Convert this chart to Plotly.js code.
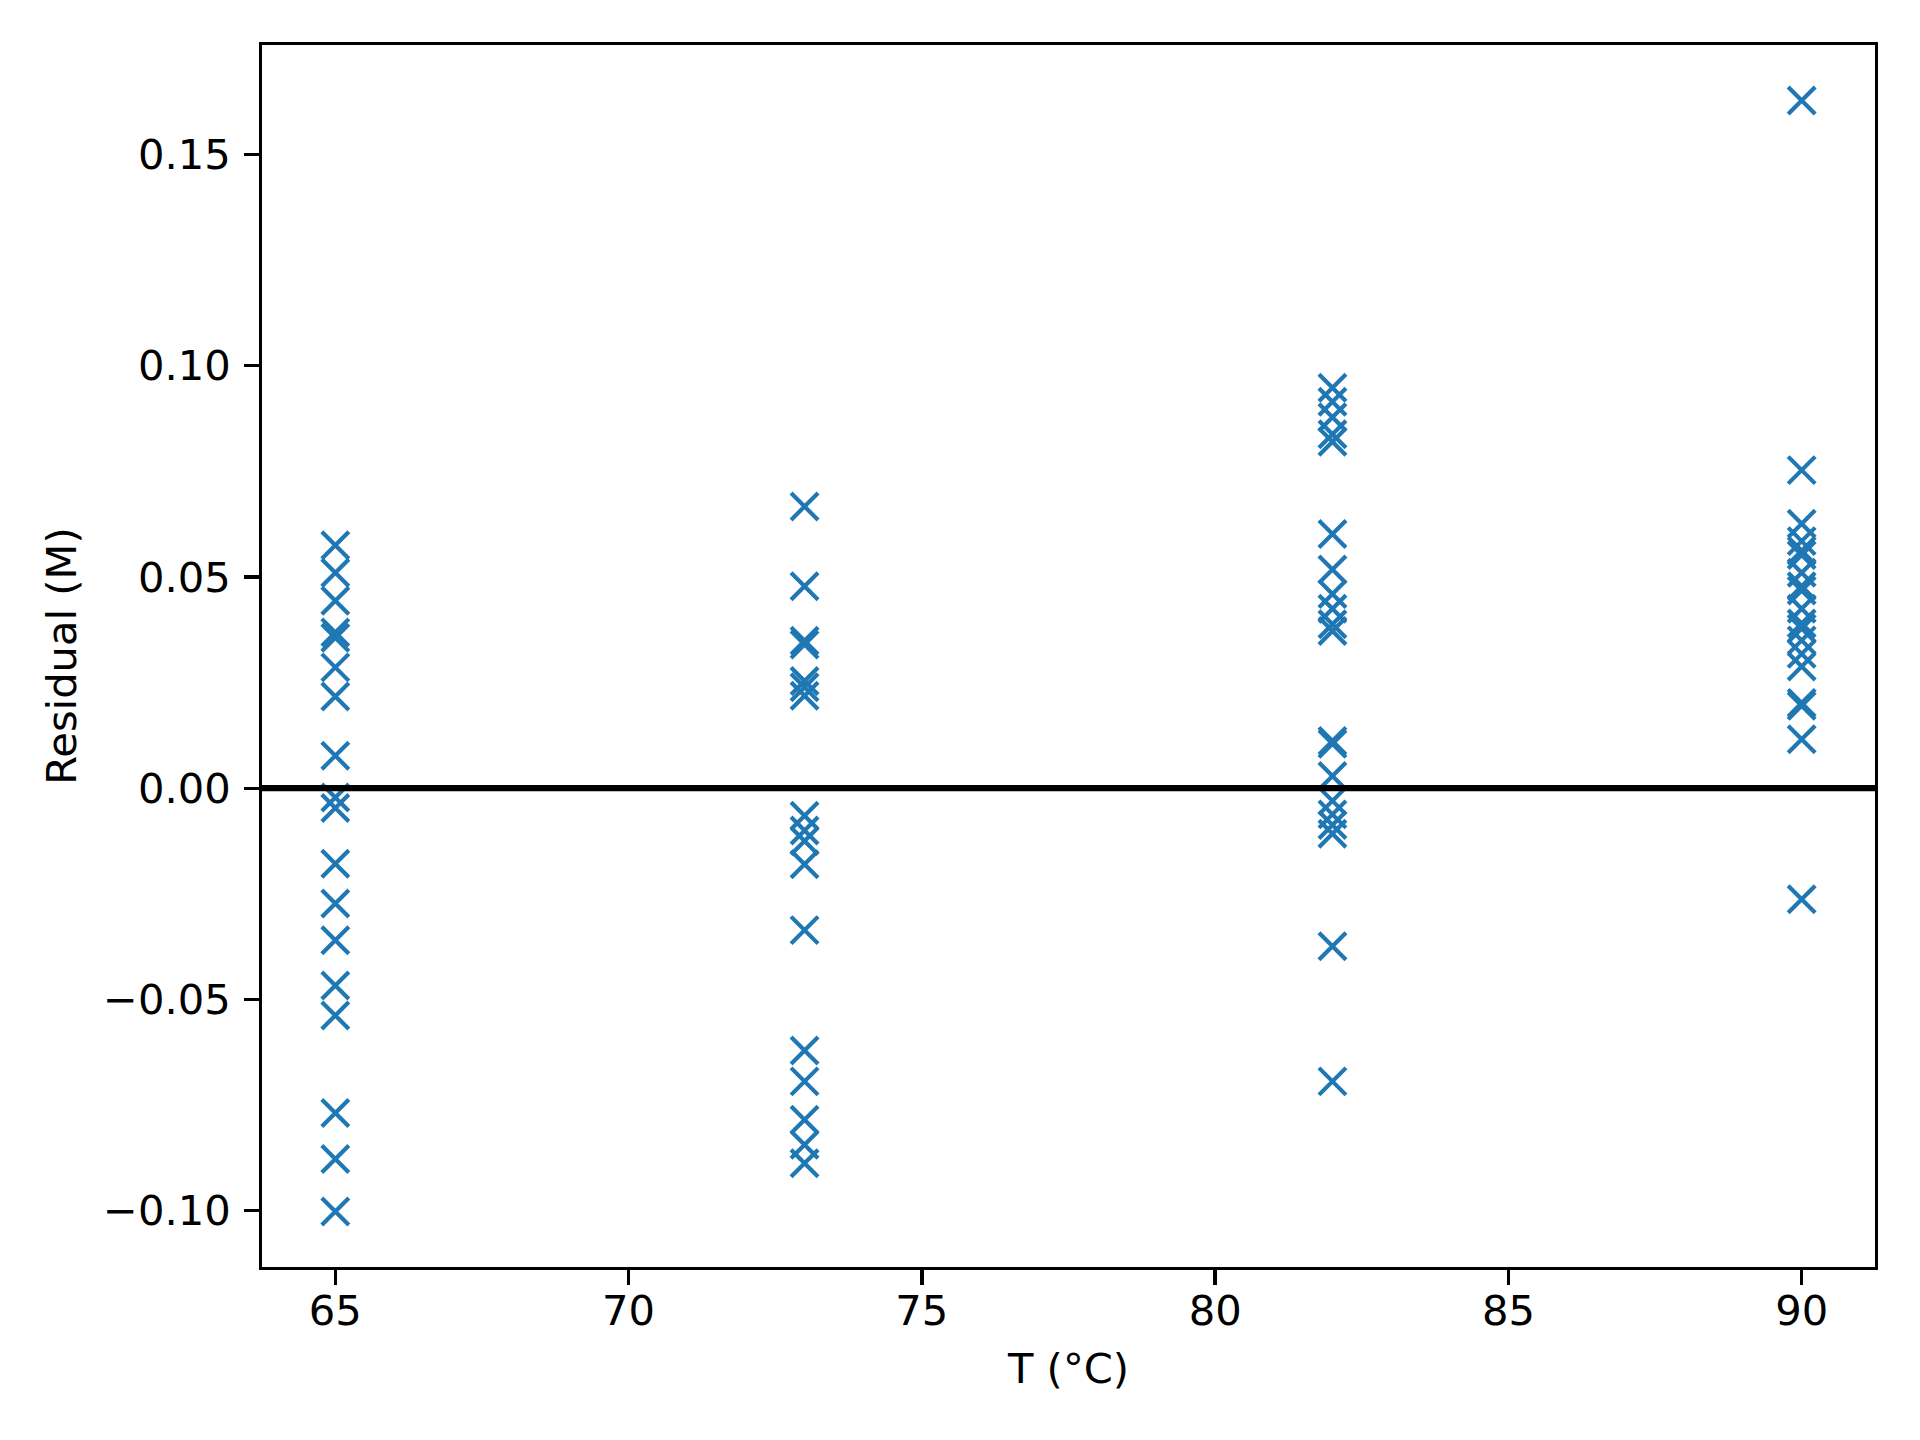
<!DOCTYPE html>
<html>
<head>
<meta charset="utf-8">
<script src="https://cdn.plot.ly/plotly-3.0.1.min.js"></script>
<style>
    html, body { margin: 0; padding: 0; background: #ffffff; }
    #chart { width: 1920px; height: 1440px; }
</style>
</head>
<body>
<div id="chart"></div>
<script>
// Residuals, one list per temperature
const temps = [65, 73, 82, 90];

const resid65 = [0.0575, 0.0510, 0.0444, 0.0369, 0.0356, 0.0286, 0.0217, 0.0077, -0.0022, -0.0047,
    -0.0179, -0.0273, -0.0360, -0.0467, -0.0538, -0.0769, -0.0878, -0.1002];
const resid73 = [0.0667, 0.0478, 0.0349, 0.0340, 0.0254, 0.0239, 0.0219, -0.0065, -0.0100, -0.0125,
    -0.0180, -0.0336, -0.0621, -0.0694, -0.0785, -0.0844, -0.0888];
const resid82 = [0.0948, 0.0915, 0.0878, 0.0838, 0.0820, 0.0602, 0.0518, 0.0460, 0.0425, 0.0388,
    0.0372, 0.0112, 0.0105, 0.0029, -0.0030, -0.0062, -0.0087, -0.0108, -0.0374, -0.0694];
const resid90 = [0.1628, 0.0753, 0.0626, 0.0585, 0.0562, 0.0552, 0.0510, 0.0478, 0.0468, 0.0425,
    0.0390, 0.0378, 0.0350, 0.0318, 0.0288, 0.0202, 0.0195, 0.0116, -0.0263];

const residGroups = [resid65, resid73, resid82, resid90];

const xTickVals = [65, 70, 75, 80, 85, 90];
const yTickVals = [-0.10, -0.05, 0.00, 0.05, 0.10, 0.15];

// flatten into x/y
const xs = [];
const ys = [];
residGroups.forEach((group, i) => {
    group.forEach(v => { xs.push(temps[i]); ys.push(v); });
});

// matplotlib-style 5% auto margins
function padRange(vals) {
    const lo = Math.min(...vals), hi = Math.max(...vals);
    const m = (hi - lo) * 0.05;
    return [lo - m, hi + m];
}

const FONT = 'DejaVu Sans, Liberation Sans, sans-serif';
const DPI = 300 / 72;   // points -> px at 300 dpi

const trace = {
    type: 'scatter',
    mode: 'markers',
    x: xs,
    y: ys,
    marker: {
        symbol: 'x-thin',
        size: 27,
        color: '#1f77b4',
        line: { color: '#1f77b4', width: 1.0 * DPI }
    },
    hoverinfo: 'skip',
    showlegend: false
};

const axisCommon = {
    showgrid: false,
    zeroline: false,
    showline: true,
    mirror: true,
    linecolor: '#000000',
    linewidth: 0.8 * DPI,
    ticks: 'outside',
    ticklen: 3.5 * DPI,
    tickwidth: 0.8 * DPI,
    tickcolor: '#000000',
    tickfont: { family: FONT, size: 10 * DPI, color: '#000000' }
};

const layout = {
    width: 1920,
    height: 1440,
    paper_bgcolor: '#ffffff',
    plot_bgcolor: '#ffffff',
    font: { family: FONT, size: 10 * DPI, color: '#000000' },
    margin: { l: 262, r: 45, t: 45, b: 173, pad: 0 },
    xaxis: Object.assign({}, axisCommon, {
        range: padRange(xs),
        tickmode: 'array',
        tickvals: xTickVals,
        ticktext: xTickVals.map(String),
        ticklabelstandoff: -10,
        title: { text: 'T (°C)', font: { family: FONT, size: 10 * DPI }, standoff: 21 }
    }),
    yaxis: Object.assign({}, axisCommon, {
        range: padRange(ys),
        tickmode: 'array',
        tickvals: yTickVals,
        ticktext: yTickVals.map(v => v.toFixed(2).replace('-', '\u2212')),
        ticklabelstandoff: 5,
        title: { text: 'Residual (M)', font: { family: FONT, size: 10 * DPI }, standoff: 14 }
    }),
    shapes: [{
        type: 'line',
        xref: 'paper', x0: 0, x1: 1,
        yref: 'y', y0: 0, y1: 0,
        line: { color: '#000000', width: 1.5 * DPI },
        layer: 'above'
    }]
};

Plotly.newPlot('chart', [trace], layout, { displayModeBar: false, staticPlot: true });
</script>
</body>
</html>
